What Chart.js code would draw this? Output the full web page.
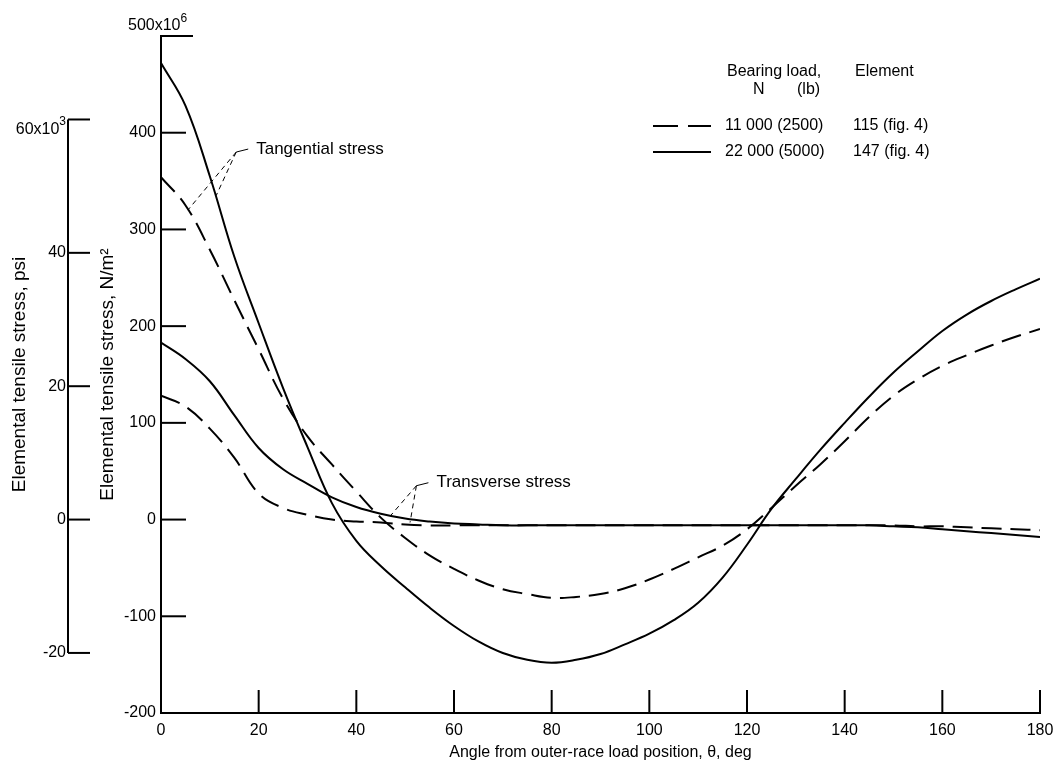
<!DOCTYPE html>
<html>
<head>
<meta charset="utf-8">
<script src="https://cdn.jsdelivr.net/npm/chart.js@4.4.0/dist/chart.umd.min.js"></script>
<style>
  html, body { margin: 0; padding: 0; background: #fff; }
  #wrap { width: 1053px; height: 768px; }
</style>
</head>
<body>
<div id="wrap"><canvas id="stressChart" width="1053" height="768"></canvas></div>
<script>
// angle from outer-race load position, deg
const angles = [0, 5, 10, 15, 20, 25, 30, 35, 40, 45, 50, 55, 60, 65, 70, 75, 80, 85, 90,
  95, 100, 105, 110, 115, 120, 125, 130, 135, 140, 145, 150, 155, 160, 165, 170, 175, 180];

// elemental tensile stress, 10^6 N/m^2
const tangential22000 = [472, 428, 355, 272, 203, 136, 75, 17, -22, -48, -70, -91, -110, -126, -138, -145, -148, -145, -139,
  -129, -118, -104, -86, -60, -26, 11, 42, 72, 100, 127, 152, 174, 195, 212, 226, 238, 249];
const tangential11000 = [354, 325, 279, 227, 176, 125, 86, 57, 29, 2, -19, -37, -51, -63, -72, -77, -81, -80, -77,
  -71, -62, -51, -39, -27, -10, 12, 35, 57, 81, 106, 128, 145, 159, 170, 180, 189, 197];
const transverse22000 = [183, 166, 143, 108, 74, 52, 37, 23, 13, 6, 1, -2, -4, -5, -6, -6, -6, -6, -6,
  -6, -6, -6, -6, -6, -6, -6, -6, -6, -6, -6, -7, -8, -10, -12, -14, -16, -18];
const transverse11000 = [128, 117, 94, 64, 27, 12, 5, 0, -2, -3, -5, -6, -6, -6, -6, -6, -6, -6, -6,
  -6, -6, -6, -6, -6, -6, -6, -6, -6, -6, -6, -6, -7, -7, -8, -9, -10, -11];

const angleTicks = [0, 20, 40, 60, 80, 100, 120, 140, 160, 180];
const stressTicks = [-200, -100, 0, 100, 200, 300, 400, 500];
const psiTicks = [-20, 0, 20, 40, 60];
const PA_PER_PSI = 6.894757; // 10^3 psi -> 10^6 N/m^2

const FONT = "'Liberation Sans', Arial, sans-serif";
Chart.defaults.font.family = FONT;
Chart.defaults.font.size = 16;
Chart.defaults.color = '#000';

const pts = (vals) => angles.map((a, i) => ({ x: a, y: vals[i] }));
const DASH = [20, 9];

const line = (ctx, x1, y1, x2, y2) => {
  ctx.beginPath(); ctx.moveTo(x1, y1); ctx.lineTo(x2, y2); ctx.stroke();
};

// inward tick marks, short psi axis, legend and callouts
const paperPlugin = {
  id: 'paper',
  afterDraw(chart) {
    const ctx = chart.ctx;
    const xs = chart.scales.x, ys = chart.scales.y, ps = chart.scales.psi;
    ctx.save();
    ctx.strokeStyle = '#000';
    ctx.fillStyle = '#000';
    ctx.lineWidth = 2;

    angleTicks.forEach(a => {
      const px = xs.getPixelForValue(a);
      line(ctx, px, xs.top, px, xs.top - 23);
    });
    stressTicks.forEach(v => {
      const py = ys.getPixelForValue(v);
      line(ctx, ys.right, py, ys.right + (v === 500 ? 32 : 25), py);
    });

    // psi axis only runs -20..60
    const pxPsi = ps.right;
    line(ctx, pxPsi, ps.getPixelForValue(60), pxPsi, ps.getPixelForValue(-20));
    psiTicks.forEach(v => {
      const py = ps.getPixelForValue(v);
      line(ctx, pxPsi, py, pxPsi + 22, py);
    });

    // top labels with exponents
    ctx.font = '16px ' + FONT;
    ctx.textBaseline = 'alphabetic';
    ctx.textAlign = 'left';
    let ty = ys.getPixelForValue(500) - 6;
    ctx.fillText('500x10', 128, ty);
    let w = ctx.measureText('500x10').width;
    ctx.font = '12px ' + FONT;
    ctx.fillText('6', 128 + w, ty - 8);

    ctx.font = '16px ' + FONT;
    ty = ps.getPixelForValue(60) + 15;
    w = ctx.measureText('60x10').width;
    ctx.font = '12px ' + FONT;
    const w3 = ctx.measureText('3').width;
    ctx.fillText('3', pxPsi - 2 - w3, ty - 9);
    ctx.font = '16px ' + FONT;
    ctx.fillText('60x10', pxPsi - 2 - w3 - w, ty);

    // legend
    ctx.textBaseline = 'middle';
    ctx.fillText('Bearing load,', 727, 72);
    ctx.fillText('Element', 855, 72);
    ctx.fillText('N', 753, 90);
    ctx.fillText('(lb)', 797, 90);
    ctx.fillText('11 000 (2500)', 725, 126);
    ctx.fillText('115 (fig. 4)', 853, 126);
    ctx.fillText('22 000 (5000)', 725, 152);
    ctx.fillText('147 (fig. 4)', 853, 152);
    line(ctx, 653, 126, 678, 126);
    line(ctx, 688, 126, 711, 126);
    line(ctx, 653, 152, 711, 152);

    // callouts
    const P = (a, v) => [xs.getPixelForValue(a), ys.getPixelForValue(v)];
    ctx.font = '17px ' + FONT;
    ctx.lineWidth = 1;
    const callout = (text, vertex, ends) => {
      const [vx, vy] = P(vertex[0], vertex[1]);
      ctx.setLineDash([]);
      line(ctx, vx, vy, vx + 12, vy - 3);
      ctx.fillText(text, vx + 20, vy - 3);
      ctx.setLineDash([5, 4]);
      ends.forEach(e => {
        const [ex, ey] = P(e[0], e[1]);
        line(ctx, vx, vy, ex, ey);
      });
      ctx.setLineDash([]);
    };
    callout('Tangential stress', [15.4, 380], [[5.5, 320], [11.3, 335]]);
    callout('Transverse stress', [52.3, 35], [[47, 4], [51, -3]]);

    ctx.restore();
  }
};

const mk = (label, vals, dashed) => ({
  label,
  data: pts(vals),
  borderColor: '#000',
  borderWidth: 2,
  borderDash: dashed ? DASH : [],
  pointRadius: 0,
  fill: false,
  tension: 0.4
});

new Chart(document.getElementById('stressChart'), {
  type: 'line',
  data: {
    datasets: [
      mk('Tangential 22 000 N', tangential22000, false),
      mk('Tangential 11 000 N', tangential11000, true),
      mk('Transverse 22 000 N', transverse22000, false),
      mk('Transverse 11 000 N', transverse11000, true)
    ]
  },
  options: {
    responsive: false,
    animation: false,
    devicePixelRatio: 1,
    layout: { padding: { top: 36, right: 13, left: 0, bottom: 0 } },
    plugins: { legend: { display: false }, tooltip: { enabled: false } },
    scales: {
      x: {
        type: 'linear',
        min: 0, max: 180,
        afterBuildTicks: s => { s.ticks = angleTicks.map(v => ({ value: v })); },
        afterFit: s => { s.height = 55; s.paddingLeft = 0; s.paddingRight = 0; },
        grid: { display: false, drawTicks: false },
        border: { display: true, color: '#000', width: 2 },
        ticks: { padding: 8, maxRotation: 0, font: { size: 16 } },
        title: {
          display: true,
          text: 'Angle from outer-race load position, θ, deg',
          font: { size: 16 },
          padding: { top: 0, bottom: 6 }
        }
      },
      y: {
        type: 'linear',
        position: 'left',
        weight: 0,
        min: -200, max: 500,
        afterBuildTicks: s => { s.ticks = stressTicks.map(v => ({ value: v })); },
        afterFit: s => { s.width = 93; },
        grid: { display: false, drawTicks: false },
        border: { display: true, color: '#000', width: 2 },
        ticks: { padding: 5, font: { size: 16 }, callback: v => (v === 500 ? '' : v) },
        title: {
          display: true,
          text: 'Elemental tensile stress, N/m²',
          font: { size: 19 },
          padding: { top: 28, bottom: 0 }
        }
      },
      psi: {
        type: 'linear',
        position: 'left',
        weight: 1,
        min: -200 / PA_PER_PSI, max: 500 / PA_PER_PSI,
        afterBuildTicks: s => { s.ticks = psiTicks.map(v => ({ value: v })); },
        afterFit: s => { s.width = 68; },
        grid: { display: false, drawTicks: false },
        border: { display: false },
        ticks: { padding: 2, font: { size: 16 }, callback: v => (v === 60 ? '' : v) },
        title: {
          display: true,
          text: 'Elemental tensile stress, psi',
          font: { size: 19 },
          padding: { top: 8, bottom: 0 }
        }
      }
    }
  },
  plugins: [paperPlugin]
});
</script>
</body>
</html>
